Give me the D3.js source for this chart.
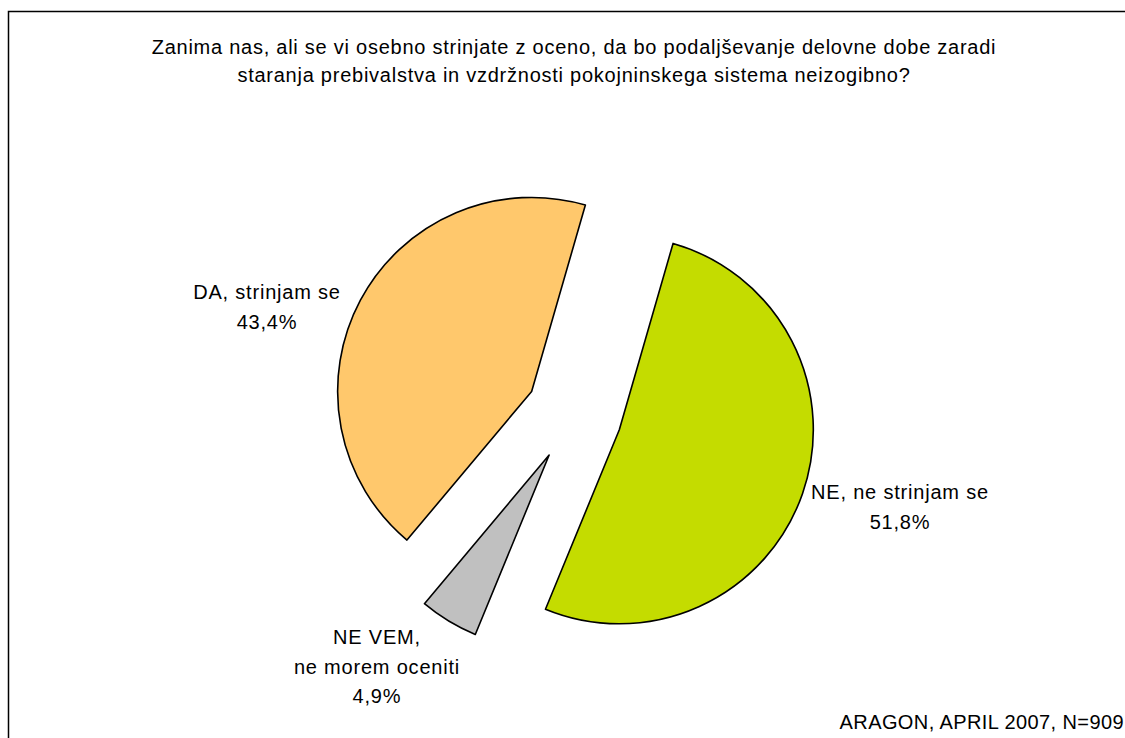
<!DOCTYPE html>
<html>
<head>
<meta charset="utf-8">
<script src="https://cdn.jsdelivr.net/npm/d3@7"></script>
<style>
  body { margin: 0; background: #fff; }
  text { font-family: "Liberation Sans", Arial, sans-serif; fill: #000; }
</style>
</head>
<body>
<div id="vis-container"></div>
<script>
// chart data
var categories = ["DA, strinjam se", "NE, ne strinjam se", "NE VEM, ne morem oceniti"];
var values = [43.4, 51.8, 4.9];
var valueLabels = ["43,4%", "51,8%", "4,9%"];
var labelLines = [["DA, strinjam se"], ["NE, ne strinjam se"], ["NE VEM,", "ne morem oceniti"]];
var colors = ["#FFC86C", "#C4DC00", "#C0C0C0"];
var titleLines = [
  "Zanima nas, ali se vi osebno strinjate z oceno, da bo podaljševanje delovne dobe zaradi",
  "staranja prebivalstva in vzdržnosti pokojninskega sistema neizogibno?"
];
var source = "ARAGON, APRIL 2007, N=909";

var width = 1125, height = 738;
var cx = 574, cy = 414, radius = 194, explode = 48;
// label anchor positions (centre of first line) for each slice
var labelPos = [[267, 292], [900, 492], [377, 637]];

var svg = d3.select("#vis-container")
  .append("svg")
  .attr("width", width)
  .attr("height", height);

// frame
svg.append("rect")
  .attr("x", 8.5).attr("y", 11.5)
  .attr("width", width + 20).attr("height", height + 20)
  .attr("fill", "none")
  .attr("stroke", "#000")
  .attr("stroke-width", 1.5);

// title
svg.append("text")
  .attr("x", 574)
  .attr("y", 54)
  .attr("text-anchor", "middle")
  .style("font-size", "20px")
  .style("letter-spacing", "0.75px")
  .selectAll("tspan")
  .data(titleLines)
  .enter()
  .append("tspan")
  .attr("x", 574)
  .attr("dy", function(d, i) { return i == 0 ? 0 : 28; })
  .text(function(d) { return d; });

var pie = d3.pie()
  .sort(null)
  .value(function(d) { return d; })
  .startAngle(-140 * Math.PI / 180)
  .endAngle(220 * Math.PI / 180);

var arc = d3.arc().innerRadius(0).outerRadius(radius);

var arcs = pie(values);

var g = svg.append("g")
  .attr("transform", "translate(" + cx + "," + cy + ")");

g.selectAll(".slice")
  .data(arcs)
  .enter()
  .append("path")
  .attr("class", "slice")
  .attr("d", arc)
  .attr("transform", function(d) {
    var a = (d.startAngle + d.endAngle) / 2;
    return "translate(" + (Math.sin(a) * explode) + "," + (-Math.cos(a) * explode) + ")";
  })
  .style("fill", function(d, i) { return colors[i]; })
  .style("stroke", "#000")
  .style("stroke-width", 1.6)
  .style("stroke-linejoin", "round");

// labels
categories.forEach(function(c, i) {
  var lines = labelLines[i].concat([valueLabels[i]]);
  var t = svg.append("text")
    .attr("text-anchor", "middle")
    .attr("x", labelPos[i][0])
    .attr("y", labelPos[i][1] + 7)
    .style("font-size", "20px")
    .style("letter-spacing", "0.8px");
  t.selectAll("tspan")
    .data(lines)
    .enter()
    .append("tspan")
    .attr("x", labelPos[i][0])
    .attr("dy", function(d, j) { return j == 0 ? 0 : 29.5; })
    .text(function(d) { return d; });
});

// source
svg.append("text")
  .attr("x", 1124)
  .attr("y", 729)
  .attr("text-anchor", "end")
  .style("font-size", "20px")
  .style("letter-spacing", "0.4px")
  .text(source);
</script>
</body>
</html>
